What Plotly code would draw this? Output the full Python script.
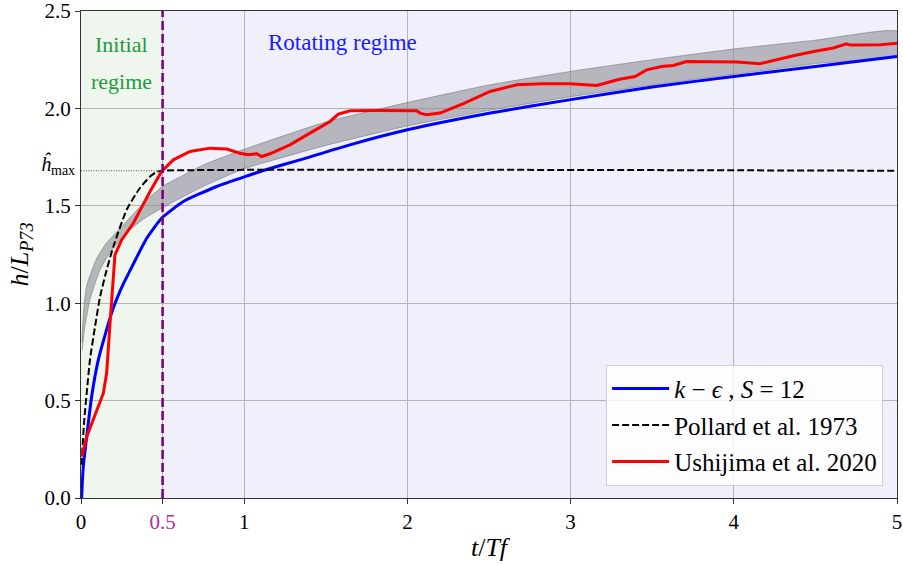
import plotly.graph_objects as go

# ---------------- data ----------------
# k - eps, S = 12 (blue)
keps_t = [0.004, 0.008, 0.014, 0.035, 0.065, 0.106, 0.147, 0.198, 0.26, 0.32, 0.40,
          0.494, 0.627, 0.831, 1.005, 1.117, 1.342, 1.648, 2.0, 2.5, 3.0, 3.5, 4.0, 4.5, 5.0]
keps_h = [0.0, 0.08, 0.16, 0.315, 0.52, 0.709, 0.835, 0.975, 1.10, 1.20, 1.33,
          1.436, 1.522, 1.599, 1.65, 1.681, 1.736, 1.813, 1.89, 1.975, 2.045, 2.11, 2.164,
          2.215, 2.267]

# Pollard et al. 1973 (black dashed)
pollard_t = [0.003, 0.01, 0.02, 0.035, 0.055, 0.086, 0.116, 0.157, 0.198, 0.28, 0.36,
             0.423, 0.466, 0.5, 5.0]
pollard_h = [0.17, 0.27, 0.40, 0.54, 0.71, 0.88, 1.03, 1.17, 1.29, 1.48, 1.59,
             1.65, 1.675, 1.68, 1.68]

# Ushijima et al. 2020 (red)
ushi_t = [0.004, 0.035, 0.137, 0.157, 0.178, 0.198, 0.208, 0.249, 0.32, 0.423, 0.494,
          0.566, 0.668, 0.79, 0.893, 0.974, 1.025, 1.077, 1.107, 1.158, 1.28, 1.403,
          1.526, 1.577, 1.65, 1.812, 2.057, 2.077, 2.118, 2.2, 2.343, 2.507, 2.67, 2.83,
          3.0, 3.16, 3.30, 3.395, 3.466, 3.558, 3.63, 3.71, 3.875, 4.018, 4.16, 4.28,
          4.365, 4.49, 4.61, 4.69, 4.71, 4.9, 5.0]
ushi_h = [0.212, 0.315, 0.538, 0.64, 0.897, 1.12, 1.248, 1.325, 1.41, 1.573, 1.676,
          1.736, 1.779, 1.796, 1.791, 1.77, 1.762, 1.767, 1.753, 1.767, 1.813, 1.873,
          1.933, 1.971, 1.988, 1.989, 1.988, 1.976, 1.967, 1.976, 2.024, 2.087, 2.121,
          2.126, 2.126, 2.118, 2.15, 2.164, 2.198, 2.215, 2.22, 2.241, 2.238, 2.238,
          2.229, 2.255, 2.27, 2.292, 2.31, 2.332, 2.325, 2.327, 2.334]

# gray envelope
band_up_t = [0.006, 0.015, 0.035, 0.096, 0.157, 0.19, 0.29, 0.39, 0.5, 0.6, 0.75, 1.0,
             1.5, 2.0, 2.5, 3.0, 3.5, 4.0, 4.5, 5.0]
band_up_h = [0.80, 0.95, 1.09, 1.23, 1.31, 1.34, 1.43, 1.52, 1.60, 1.645, 1.71, 1.79,
             1.93, 2.03, 2.12, 2.19, 2.25, 2.305, 2.35, 2.395]
band_lo_t = [0.008, 0.02, 0.055, 0.116, 0.178, 0.29, 0.39, 0.5, 0.6, 0.75, 1.0, 1.5,
             2.0, 2.5, 3.0, 3.5, 4.0, 4.5, 5.0]
band_lo_h = [0.76, 0.86, 1.02, 1.17, 1.26, 1.37, 1.436, 1.49, 1.535, 1.60, 1.69, 1.81,
             1.91, 1.99, 2.06, 2.12, 2.175, 2.23, 2.28]

h_max = 1.68
t_split = 0.5
x_ticks = [0, 0.5, 1, 2, 3, 4, 5]
x_ticktext = ["0", "<span style='color:#b0309a'>0.5</span>", "1", "2", "3", "4", "5"]
y_ticks = [0, 0.5, 1.0, 1.5, 2.0, 2.5]
y_ticktext = ["0.0", "0.5", "1.0", "1.5", "2.0", "2.5"]

FONT = "Liberation Serif"

fig = go.Figure()

# envelope
fig.add_trace(go.Scatter(
    x=band_up_t + band_lo_t[::-1], y=band_up_h + band_lo_h[::-1],
    fill="toself", fillcolor="rgba(140,140,145,0.58)",
    line=dict(color="rgba(120,120,125,0.6)", width=1, shape="spline", smoothing=0.5),
    mode="lines", showlegend=False, hoverinfo="skip"))

fig.add_trace(go.Scatter(
    x=[0, pollard_t[-3]], y=[h_max, h_max], mode="lines",
    line=dict(color="rgba(0,0,0,0.8)", width=0.8, dash="1px,1.5px"),
    showlegend=False, hoverinfo="skip"))

fig.add_trace(go.Scatter(
    x=keps_t, y=keps_h, mode="lines", name="<i>k</i> − <i>ϵ</i> , <i>S</i> = 12",
    legendgroup="a",
    line=dict(color="#0000ff", width=3, shape="spline", smoothing=0.5)))
fig.add_trace(go.Scatter(
    x=pollard_t, y=pollard_h, mode="lines", name="Pollard et al. 1973",
    legendgroup="b",
    line=dict(color="black", width=2, dash="7px,3px", shape="spline", smoothing=0.6)))
fig.add_trace(go.Scatter(
    x=ushi_t, y=ushi_h, mode="lines", name="Ushijima et al. 2020",
    legendgroup="c",
    line=dict(color="#ff0000", width=3)))

# regime backgrounds
fig.add_shape(type="rect", x0=0, x1=t_split, y0=0, y1=2.5, xref="x", yref="y",
              fillcolor="#eef6ee", line_width=0, layer="below")
fig.add_shape(type="rect", x0=t_split, x1=5, y0=0, y1=2.5, xref="x", yref="y",
              fillcolor="#f0f0fd", line_width=0, layer="below")
# split line
fig.add_shape(type="line", x0=t_split, x1=t_split, y0=0, y1=2.5, xref="x", yref="y",
              line=dict(color="#800080", width=2.6, dash="9px,4px"), layer="above")

fig.add_annotation(x=0.25, y=2.33, text="Initial", showarrow=False,
                   font=dict(family=FONT, size=22, color="#1f9a3a"))
fig.add_annotation(x=0.25, y=2.14, text="regime", showarrow=False,
                   font=dict(family=FONT, size=22, color="#1f9a3a"))
fig.add_annotation(x=1.6, y=2.34, text="Rotating regime", showarrow=False,
                   font=dict(family=FONT, size=23, color="#1a1aff"))
fig.add_annotation(x=0, xref="paper", y=h_max, yref="y", xanchor="right", xshift=-4,
                   yshift=6, text="<i>ĥ</i><sub>max</sub>", showarrow=False,
                   font=dict(family=FONT, size=20, color="black"))

fig.update_layout(
    width=903, height=565,
    margin=dict(l=81, r=6, t=11, b=67, autoexpand=False),
    paper_bgcolor="white", plot_bgcolor="white",
    font=dict(family=FONT, color="black"),
    showlegend=True,
    legend=dict(x=0.983, y=0.025, xanchor="right", yanchor="bottom",
                bgcolor="rgba(255,255,255,0.82)", bordercolor="#d0d0d0", borderwidth=1,
                font=dict(family=FONT, size=25), itemwidth=57,
                tracegroupgap=1),
    xaxis=dict(range=[0, 5], tickvals=x_ticks, ticktext=x_ticktext, automargin=False,
               ticks="outside", ticklen=5, tickcolor="#333", tickwidth=1,
               ticklabeloverflow="allow",
               showgrid=True, gridcolor="#b4b4b4", gridwidth=1,
               showline=True, linecolor="#333", linewidth=1.2, mirror=True,
               zeroline=False, tickfont=dict(family=FONT, size=21),
               title=dict(text="<i>t</i>/<i>Tf</i>", font=dict(family=FONT, size=26),
                          standoff=4)),
    yaxis=dict(range=[0, 2.5], tickvals=y_ticks, ticktext=y_ticktext, automargin=False,
               ticks="outside", ticklen=5, tickcolor="#333", tickwidth=1,
               ticklabeloverflow="allow",
               showgrid=True, gridcolor="#b4b4b4", gridwidth=1,
               showline=True, linecolor="#333", linewidth=1.2, mirror=True,
               zeroline=False, tickfont=dict(family=FONT, size=21),
               title=dict(text="<i>h</i>/<i>L</i><sub><i>P73</i></sub>",
                          font=dict(family=FONT, size=26), standoff=8)),
)

fig.write_html("out.html", config={"displayModeBar": False},
               post_script="document.body.style.margin='0px';document.body.style.overflow='hidden';")
